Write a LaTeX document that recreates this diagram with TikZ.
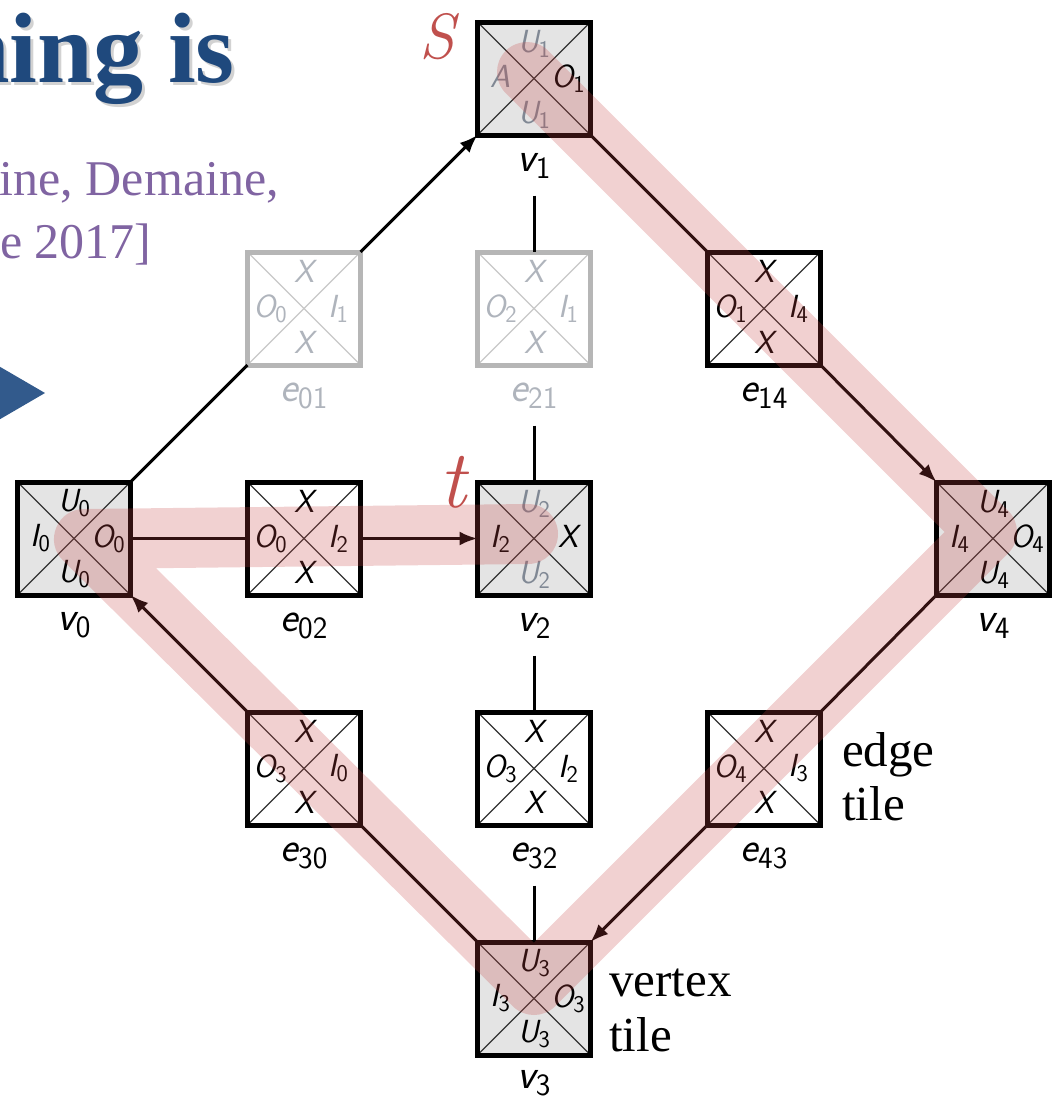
\documentclass[tikz,border=0pt]{standalone}
\usepackage{fontspec}
\newfontfamily\libserif{Liberation Serif}
\usetikzlibrary{arrows.meta}
\definecolor{tilegray}{RGB}{228,228,228}
\definecolor{ghost}{RGB}{182,182,182}
\definecolor{ghostdiag}{RGB}{200,200,200}
\definecolor{ghosttext}{RGB}{175,180,188}
\definecolor{halftext}{RGB}{128,136,148}
\definecolor{hlred}{RGB}{200,70,70}
\definecolor{redtxt}{RGB}{192,80,77}
\definecolor{titleblue}{RGB}{31,73,125}
\definecolor{citecol}{RGB}{128,100,162}
\definecolor{tricol}{RGB}{50,90,140}
\newcommand\tl[2]{{\fontsize{32}{32}\selectfont\sffamily\itshape #1}{\fontsize{24}{24}\selectfont\sffamily\raisebox{-5pt}{#2}}}
\newcommand\bl[2]{{\fontsize{42}{42}\selectfont\sffamily\itshape #1}{\fontsize{31}{31}\selectfont\sffamily\raisebox{-7pt}{#2}}}
\newcommand\TileText[5]{%
  \node[tlab] (#1-n) at ([yshift=35pt]#1.center) {#2};
  \node[tlab] (#1-w) at ([xshift=-34pt]#1.center) {#3};
  \node[tlab] (#1-e) at ([xshift=34pt]#1.center) {#4};
  \node[tlab] (#1-s) at ([yshift=-36pt]#1.center) {#5};
}
\tikzset{
  tilebase/.style={rectangle, minimum size=113, inner sep=0, outer sep=0, line width=5, draw=black,
    path picture={\draw[line width=1.3, #1] (path picture bounding box.north west) -- (path picture bounding box.south east)
      (path picture bounding box.north east) -- (path picture bounding box.south west);}},
  vtile/.style={tilebase=black!80, fill=tilegray},
  etile/.style={tilebase=black!80, fill=white},
  gtile/.style={tilebase=ghostdiag, fill=white, draw=ghost},
  tlab/.style={inner sep=0, outer sep=0},
  blab/.style={inner sep=0, outer sep=0},
  conn/.style={line width=3, draw=black},
  arr/.style={conn, -{Latex[length=18pt,width=14pt]}},
  bigtext/.style={inner sep=0, font=\libserif\fontsize{49}{49}\selectfont, anchor=base west},
  citetext/.style={inner sep=0, text=citecol, font=\libserif\fontsize{50}{50}\selectfont},
  titletext/.style={anchor=base east, inner sep=0, font=\libserif\bfseries\fontsize{100}{100}\selectfont},
}
\begin{document}
\begin{tikzpicture}[x=1pt,y=-1pt]
\useasboundingbox (0,0) rectangle (1052,1100);
\clip (0,0) rectangle (1052,1100);
% title and citation
\node[titletext, text=black!35, opacity=0.5] (titleshadow) at (238,85) {ning is};
\node[titletext, text=titleblue] (title) at (235,82) {ning is};
\node[citetext, anchor=base east] (cite1) at (279,195) {ine, Demaine,};
\node[citetext, anchor=base west] (cite2) at (0,258) {e 2017]};
\fill[tricol] (-10,361) -- (45,393) -- (-10,425) -- cycle;
% tiles
\node[vtile] (v1) at (534,78.5) {};
\node[gtile] (e01) at (304,308.5) {};
\node[gtile] (e21) at (534,308.5) {};
\node[etile] (e14) at (764,308.5) {};
\node[vtile] (v0) at (74,538.5) {};
\node[etile] (e02) at (304,538.5) {};
\node[vtile] (v2) at (534,538.5) {};
\node[vtile] (v4) at (993,538.5) {};
\node[etile] (e30) at (304,768.5) {};
\node[etile] (e32) at (534,768.5) {};
\node[etile] (e43) at (764,768.5) {};
\node[vtile] (v3) at (534,998.5) {};
% tile texts
\TileText{v1}{\color{halftext}\tl{U}{1}}{\color{halftext}\tl{A}{}}{\tl{O}{1}}{\color{halftext}\tl{U}{1}}
\TileText{e01}{\color{ghosttext}\tl{X}{}}{\color{ghosttext}\tl{O}{0}}{\color{ghosttext}\tl{I}{1}}{\color{ghosttext}\tl{X}{}}
\TileText{e21}{\color{ghosttext}\tl{X}{}}{\color{ghosttext}\tl{O}{2}}{\color{ghosttext}\tl{I}{1}}{\color{ghosttext}\tl{X}{}}
\TileText{e14}{\tl{X}{}}{\tl{O}{1}}{\tl{I}{4}}{\tl{X}{}}
\TileText{v0}{\tl{U}{0}}{\tl{I}{0}}{\tl{O}{0}}{\tl{U}{0}}
\TileText{e02}{\tl{X}{}}{\tl{O}{0}}{\tl{I}{2}}{\tl{X}{}}
\TileText{v2}{\color{halftext}\tl{U}{2}}{\tl{I}{2}}{\tl{X}{}}{\color{halftext}\tl{U}{2}}
\TileText{v4}{\tl{U}{4}}{\tl{I}{4}}{\tl{O}{4}}{\tl{U}{4}}
\TileText{e30}{\tl{X}{}}{\tl{O}{3}}{\tl{I}{0}}{\tl{X}{}}
\TileText{e32}{\tl{X}{}}{\tl{O}{3}}{\tl{I}{2}}{\tl{X}{}}
\TileText{e43}{\tl{X}{}}{\tl{O}{4}}{\tl{I}{3}}{\tl{X}{}}
\TileText{v3}{\tl{U}{3}}{\tl{I}{3}}{\tl{O}{3}}{\tl{U}{3}}
% labels below
\node[blab] (v1-lab) at ([yshift=-87pt]v1.center) {\bl{v}{1}};
\node[blab, text=ghosttext] (e01-lab) at ([yshift=-87pt]e01.center) {\bl{e}{01}};
\node[blab, text=ghosttext] (e21-lab) at ([yshift=-87pt]e21.center) {\bl{e}{21}};
\node[blab] (e14-lab) at ([yshift=-87pt]e14.center) {\bl{e}{14}};
\node[blab] (v0-lab) at ([yshift=-87pt]v0.center) {\bl{v}{0}};
\node[blab] (e02-lab) at ([yshift=-87pt]e02.center) {\bl{e}{02}};
\node[blab] (v2-lab) at ([yshift=-87pt]v2.center) {\bl{v}{2}};
\node[blab] (v4-lab) at ([yshift=-87pt]v4.center) {\bl{v}{4}};
\node[blab] (e30-lab) at ([yshift=-87pt]e30.center) {\bl{e}{30}};
\node[blab] (e32-lab) at ([yshift=-87pt]e32.center) {\bl{e}{32}};
\node[blab] (e43-lab) at ([yshift=-87pt]e43.center) {\bl{e}{43}};
\node[blab] (v3-lab) at ([yshift=-85pt]v3.center) {\bl{v}{3}};
% connectors
\draw[conn] (v0.north east) -- (e01.south west);
\draw[arr] (e01.north east) -- (v1.south west);
\draw[conn] (v1.south east) -- (e14.north west);
\draw[arr] (e14.south east) -- (v4.north west);
\draw[conn] (v4.south west) -- (e43.north east);
\draw[arr] (e43.south west) -- (v3.north east);
\draw[conn] (v3.north west) -- (e30.south east);
\draw[arr] (e30.north west) -- (v0.south east);
\draw[conn] (v0.east) -- (e02.west);
\draw[arr] (e02.east) -- (v2.west);
\draw[conn] ([yshift=-117pt]v1.center) -- (e21.north);
\draw[conn] ([yshift=-117pt]e21.center) -- (v2.north);
\draw[conn] ([yshift=-117pt]v2.center) -- (e32.north);
\draw[conn] ([yshift=-117pt]e32.center) -- (v3.north);
% side texts
\node[bigtext] (edge1) at (842,766) {edge};
\node[bigtext] (edge2) at (842,820) {tile};
\node[bigtext] (vert1) at (609,996) {vertex};
\node[bigtext] (vert2) at (609,1051) {tile};
\node[inner sep=0, text=redtxt, font=\fontsize{64}{64}\selectfont\itshape] (S) at (437,37) {S};
\node[inner sep=0, text=redtxt, font=\fontsize{82}{82}\selectfont\itshape] (t) at (453,482) {t};
% highlight
\draw[hlred, opacity=0.25, line width=60, line join=round, line cap=round]
  (527,72) -- (987,532) -- (534,985) -- (84,539) -- (528,534);
\end{tikzpicture}
\end{document}
